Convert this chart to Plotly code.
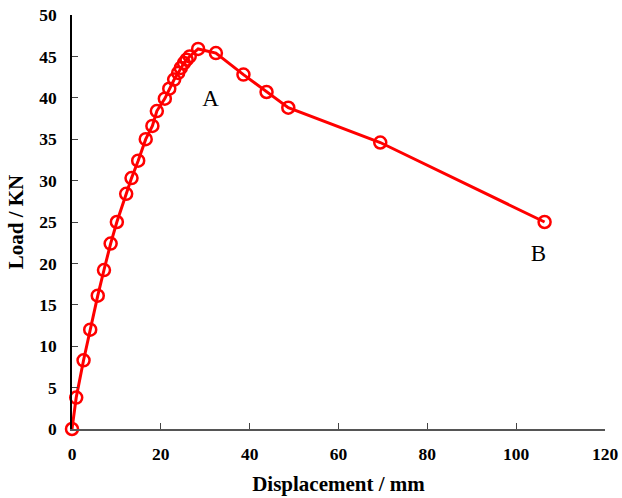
import plotly.graph_objects as go

displacement = [0, 0.95, 2.6, 4.1, 5.8, 7.2, 8.7, 10.1, 12.2, 13.4, 14.9, 16.6, 18.1,
                19.1, 20.9, 21.9, 23.0, 23.9, 24.5, 25.2, 25.8, 26.5, 28.4, 32.4,
                38.6, 43.8, 48.7, 69.4, 106.4]
load = [0, 3.8, 8.3, 12.0, 16.1, 19.2, 22.4, 25.0, 28.4, 30.3, 32.4, 35.0, 36.6,
        38.4, 39.9, 41.1, 42.2, 43.0, 43.6, 44.2, 44.6, 45.0, 45.9, 45.4,
        42.8, 40.7, 38.8, 34.6, 25.0]
label_text = ["A", "B"]
label_x = [31.2, 105.0]
label_y = [39.7, 21.0]

serif = "Liberation Serif, Times New Roman, serif"

fig = go.Figure()
fig.add_trace(go.Scatter(
    x=displacement, y=load, mode="lines+markers",
    line=dict(color="#ff0000", width=3),
    marker=dict(symbol="circle-open", size=12, color="#ff0000", line=dict(width=2.5, color="#ff0000")),
    cliponaxis=False, showlegend=False,
))
fig.add_trace(go.Scatter(
    x=label_x, y=label_y, mode="text", text=label_text,
    textfont=dict(family=serif, size=23, color="black"),
    showlegend=False, cliponaxis=False,
))

fig.update_layout(
    width=622, height=498,
    margin=dict(l=72, r=17, t=15, b=69, autoexpand=False),
    paper_bgcolor="white", plot_bgcolor="white",
    xaxis=dict(
        range=[0, 120], tickvals=[0, 20, 40, 60, 80, 100, 120], automargin=False,
        ticks="inside", ticklen=6, tickcolor="#444", showgrid=False, zeroline=False,
        showline=True, linecolor="#555", linewidth=1.5,
        tickfont=dict(family=serif, size=17.5, color="black", weight="bold"),
        title=dict(text="<b>Displacement / mm</b>", font=dict(family=serif, size=21, color="black"), standoff=14),
        ticklabelstandoff=8,
    ),
    yaxis=dict(
        range=[0, 50], tickvals=[0, 5, 10, 15, 20, 25, 30, 35, 40, 45, 50], automargin=False,
        ticks="inside", ticklen=6, tickcolor="#444", showgrid=False, zeroline=False,
        showline=True, linecolor="black", linewidth=1.5,
        tickfont=dict(family=serif, size=17.5, color="black", weight="bold"),
        title=dict(text="<b>Load / KN</b>", font=dict(family=serif, size=21, color="black"), standoff=10),
        ticklabelstandoff=10,
    ),
)

fig.write_html("out.html")
